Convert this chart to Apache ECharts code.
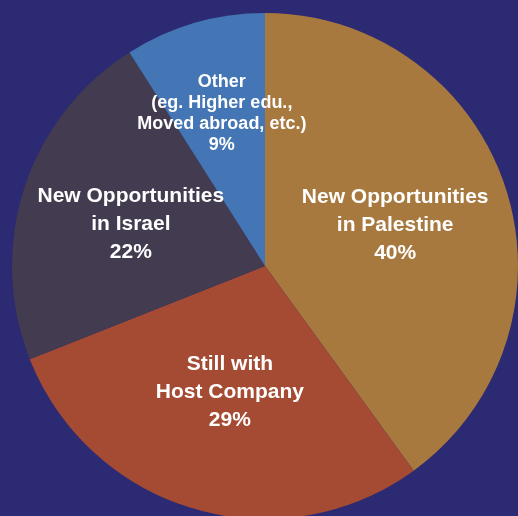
<!DOCTYPE html>
<html>
<head>
<meta charset="utf-8">
<script src="https://cdn.jsdelivr.net/npm/echarts@6/dist/echarts.min.js"></script>
<style>
  html, body { margin: 0; padding: 0; background: #2c2a72; }
  #chart { width: 518px; height: 516px; }
</style>
</head>
<body>
<div id="chart"></div>
<script>
// slices, clockwise from 12 o'clock
const categories = [
  "New Opportunities\nin Palestine",
  "Still with\nHost Company",
  "New Opportunities\nin Israel",
  "Other\n(eg. Higher edu.,\nMoved abroad, etc.)"
];
const values = [40, 29, 22, 9];
const colors = ["#a8793f", "#a54b33", "#433b4f", "#4475b4"];

const chart = echarts.init(document.getElementById("chart"));

// nudge labels to where they sit in the original
const labelShift = [[7, -1], [1, 2], [-11, -2], [-7, -28]];

chart.setOption({
  backgroundColor: "#2c2a72",
  animation: false,
  series: [
    {
      type: "pie",
      center: [265, 266],
      radius: 253,
      startAngle: 90,
      clockwise: true,
      data: categories.map((name, i) => ({
        name: name,
        value: values[i],
        itemStyle: { color: colors[i] },
        label: i === 3 ? { fontSize: 18, lineHeight: 21 } : {}
      })),
      label: {
        show: true,
        position: "inside",
        formatter: (p) => p.name + "\n" + p.value + "%",
        color: "#ffffff",
        fontFamily: "Liberation Sans, Arial, sans-serif",
        fontWeight: "bold",
        fontSize: 21,
        lineHeight: 28,
        align: "center"
      },
      labelLayout: (params) => ({
        dx: labelShift[params.dataIndex][0],
        dy: labelShift[params.dataIndex][1]
      }),
      labelLine: { show: false },
      emphasis: { disabled: true }
    }
  ]
});
</script>
</body>
</html>
